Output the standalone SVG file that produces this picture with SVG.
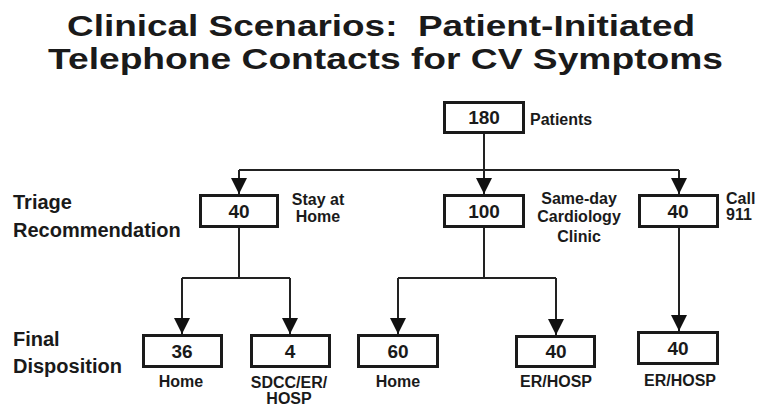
<svg xmlns="http://www.w3.org/2000/svg" width="760" height="407" viewBox="0 0 760 407">
<style>
text{font-family:"Liberation Sans",Arial,sans-serif;font-weight:bold;fill:#1a1a1a}
.title{font-size:29px;white-space:pre}
.num{font-size:19px;text-anchor:middle}
.lbl{font-size:16px}
.mid{text-anchor:middle}
.side{font-size:20px}
.box{fill:#fff;stroke:#1a1a1a;stroke-width:3}
.con{fill:none;stroke:#222;stroke-width:2}
</style>
<defs>
<marker id="arr" markerUnits="userSpaceOnUse" markerWidth="16" markerHeight="16" refX="16" refY="8" orient="auto">
<path d="M0,0 L16,8 L0,16 z" fill="#111"/>
</marker>
</defs>
<rect width="760" height="407" fill="#fff"/>
<g id="title">
<text class="title" x="67" y="36" textLength="628" lengthAdjust="spacingAndGlyphs" xml:space="preserve">Clinical Scenarios:  Patient-Initiated</text>
<text class="title" x="48" y="69" textLength="675" lengthAdjust="spacingAndGlyphs">Telephone Contacts for CV Symptoms</text>
</g>
<g id="row-labels">
<text class="side" x="13" y="209">Triage</text>
<text class="side" x="13" y="237">Recommendation</text>
<text class="side" x="13" y="346">Final</text>
<text class="side" x="13" y="373">Disposition</text>
</g>
<g id="connectors">
<path class="con" d="M484,133 V170"/>
<path class="con" d="M239,170 H679"/>
<path class="con" d="M239,170 V194" marker-end="url(#arr)"/>
<path class="con" d="M484,170 V194" marker-end="url(#arr)"/>
<path class="con" d="M679,170 V194" marker-end="url(#arr)"/>
<path class="con" d="M239,227 V278 M182,278 H290"/>
<path class="con" d="M182,278 V334" marker-end="url(#arr)"/>
<path class="con" d="M290,278 V334" marker-end="url(#arr)"/>
<path class="con" d="M484,227 V278 M398,278 H556"/>
<path class="con" d="M398,278 V334" marker-end="url(#arr)"/>
<path class="con" d="M556,278 V335" marker-end="url(#arr)"/>
<path class="con" d="M679,227 V331" marker-end="url(#arr)"/>
</g>
<g id="n180">
<rect class="box" x="444.5" y="102.5" width="79" height="30"/>
<text class="num" x="484" y="124">180</text>
<text class="lbl" x="530" y="125">Patients</text>
</g>
<g id="n-stay">
<rect class="box" x="200.5" y="195.5" width="77" height="31"/>
<text class="num" x="239" y="218">40</text>
<text class="lbl mid" x="318" y="205">Stay at</text>
<text class="lbl mid" x="318" y="222">Home</text>
</g>
<g id="n-sdcc">
<rect class="box" x="444.5" y="195.5" width="79" height="31"/>
<text class="num" x="484" y="218">100</text>
<text class="lbl mid" x="579" y="204">Same-day</text>
<text class="lbl mid" x="579" y="222">Cardiology</text>
<text class="lbl mid" x="579" y="242">Clinic</text>
</g>
<g id="n-911">
<rect class="box" x="639.5" y="195.5" width="78" height="31"/>
<text class="num" x="678" y="218">40</text>
<text class="lbl" x="726" y="204">Call</text>
<text class="lbl" x="726" y="220">911</text>
</g>
<g id="n-home36">
<rect class="box" x="143.5" y="335.5" width="78" height="31"/>
<text class="num" x="182" y="358">36</text>
<text class="lbl mid" x="181" y="387">Home</text>
</g>
<g id="n-sdcc4">
<rect class="box" x="251.5" y="335.5" width="78" height="31"/>
<text class="num" x="290" y="358">4</text>
<text class="lbl mid" x="289" y="388">SDCC/ER/</text>
<text class="lbl mid" x="289" y="404">HOSP</text>
</g>
<g id="n-home60">
<rect class="box" x="358.5" y="335.5" width="79" height="31"/>
<text class="num" x="398" y="358">60</text>
<text class="lbl mid" x="398" y="387">Home</text>
</g>
<g id="n-er40">
<rect class="box" x="516.5" y="336.5" width="78" height="30"/>
<text class="num" x="556" y="358">40</text>
<text class="lbl mid" x="556" y="387">ER/HOSP</text>
</g>
<g id="n-er40b">
<rect class="box" x="638.5" y="332.5" width="79" height="31"/>
<text class="num" x="678" y="355">40</text>
<text class="lbl mid" x="680" y="386">ER/HOSP</text>
</g>
</svg>
